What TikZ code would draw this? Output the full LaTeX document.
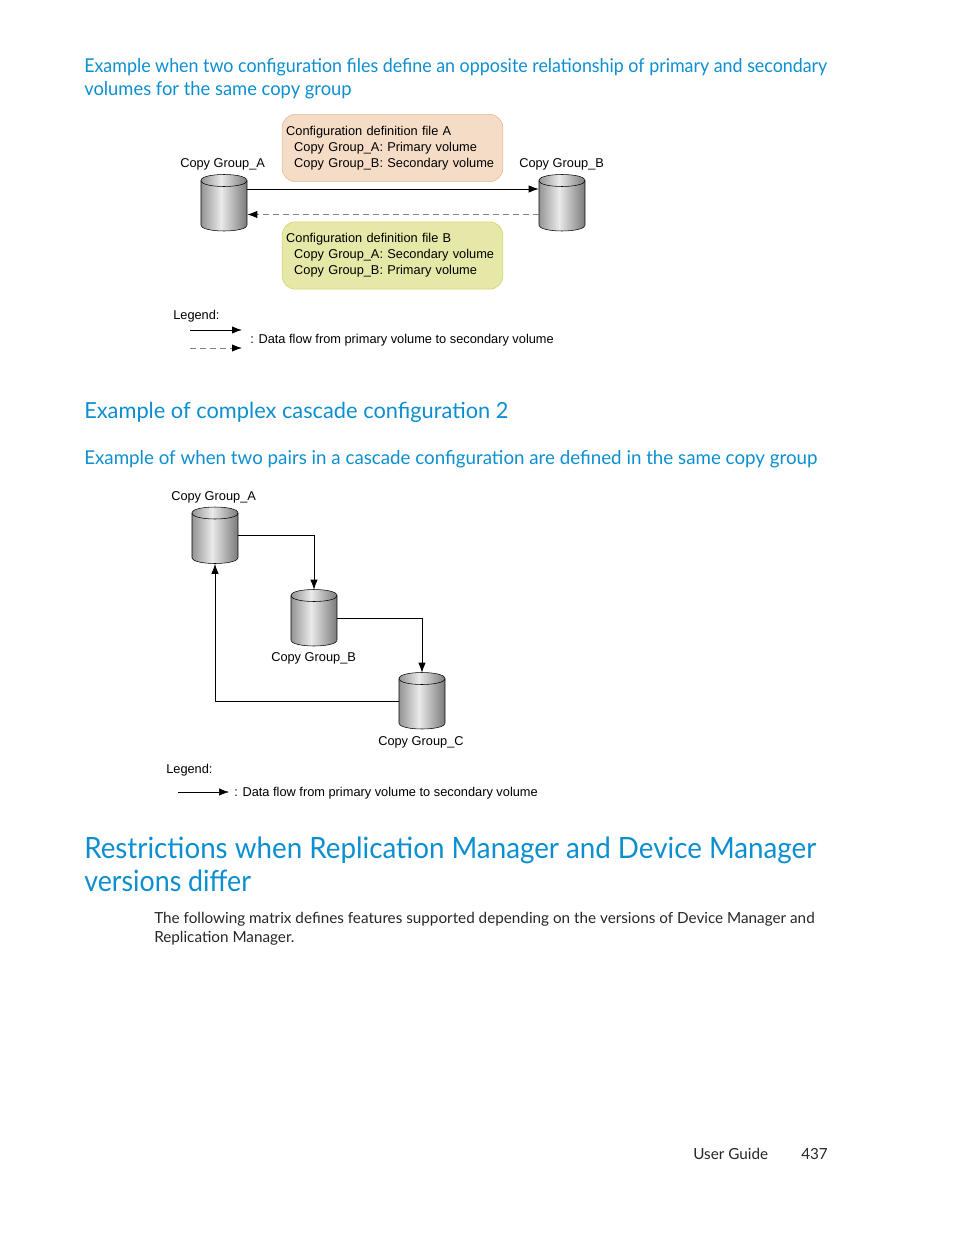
\documentclass[tikz,border=0pt]{standalone}
\usepackage{fontspec}
\usepackage{xcolor}
\usepackage{tikz}
\usetikzlibrary{arrows.meta}
\setmainfont{Lato}
\newfontfamily\figfont{Liberation Sans}
\newcommand{\headfont}[2]{\fontspec{Lato}[FakeStretch=#2]\fontsize{#1}{#1}\selectfont}
\definecolor{headblue}{HTML}{0C8FD0}
\definecolor{fileAfill}{HTML}{F5DCC6}
\definecolor{fileAline}{HTML}{E0B890}
\definecolor{fileBfill}{HTML}{E6E8A8}
\definecolor{fileBline}{HTML}{CDD060}
\definecolor{volEdge}{HTML}{7A7A7A}
\definecolor{volMid}{HTML}{EAEAEA}
\tikzset{
  volbox/.style={minimum width=34.5pt, minimum height=42pt, inner sep=0pt},
  heading/.style n args={2}{anchor=base west, inner sep=0pt, text=headblue, font=\headfont{#1}{#2}},
  bodytext/.style={anchor=base west, inner sep=0pt, text=black!85, font=\fontsize{11.45}{11.45}\selectfont},
  figlabel/.style={anchor=base west, inner sep=0pt, font=\figfont\fontsize{9.6}{9.6}\selectfont},
  filebox/.style={rounded corners=10pt, minimum width=165.5pt, minimum height=50.5pt,
    inner sep=3pt, text width=159.5pt, align=left,
    font=\figfont\fontsize{9.6}{12}\selectfont},
  flow/.style={-{Latex[length=7.5pt,width=5.5pt]}, semithick},
  backflow/.style={-{Latex[length=7.5pt,width=5.5pt,black]}, dash pattern=on 4.5pt off 3pt, gray, semithick}
}
\newcommand{\drawvolume}[2]{%
  \node[volbox] (#1) at (#2) {};
  \begin{scope}[shift={(#2)}]
    \begin{scope}
      \clip (-23,-22.5) .. controls (-23,-30.5) and (23,-30.5) .. (23,-22.5) -- (23,22)
        .. controls (23,30) and (-23,30) .. (-23,22) -- cycle;
      % Gradient in strips
      \foreach \s in {-23,...,22}{
        \pgfmathsetmacro{\mixval}{100*(1-abs(\s+3)/26)}
        \fill[volMid!\mixval!volEdge] (\s,-32) rectangle (\s+1.4,32);
      }
    \end{scope}
    \draw[thin] (-23,-22.5) .. controls (-23,-30.5) and (23,-30.5) .. (23,-22.5) -- (23,22)
      .. controls (23,30) and (-23,30) .. (-23,22) -- cycle;
    \draw[thin] (-23,-22.5) .. controls (-23,-14.5) and (23,-14.5) .. (23,-22.5);
  \end{scope}}
\begin{document}
\begin{tikzpicture}[x=0.75pt,y=-0.75pt]
  \useasboundingbox (0,0) rectangle (954,1235);
  % Headings
  \node[heading={14.3}{.936}] (headA) at (84,72) {Example when two configuration files define an opposite relationship of primary and secondary};
  \node[heading={14.3}{.963}] (headAb) at (84,95) {volumes for the same copy group};
  \node[heading={16.6}{.985}] (headB) at (84,418) {Example of complex cascade configuration 2};
  \node[heading={14.3}{.983}] (headC) at (84,464) {Example of when two pairs in a cascade configuration are defined in the same copy group};
  \node[heading={22}{.946}] (headD) at (84,858) {Restrictions when Replication Manager and Device Manager};
  \node[heading={22}{.914}] (headDb) at (84,891) {versions differ};
  % First figure
  \node[filebox, fill=fileAfill, draw=fileAline] (fileA) at (392.5,148)
    {Configuration definition file A\\\hspace*{6pt}Copy Group\_A: Primary volume\\\hspace*{6pt}Copy Group\_B: Secondary volume};
  \node[filebox, fill=fileBfill, draw=fileBline] (fileB) at (392.5,255.5)
    {Configuration definition file B\\\hspace*{6pt}Copy Group\_A: Secondary volume\\\hspace*{6pt}Copy Group\_B: Primary volume};
  \drawvolume{volA}{224,203}
  \drawvolume{volB}{562,203}
  \node[figlabel] (labA) at (180,167) {Copy Group\_A};
  \node[figlabel] (labB) at (519,167) {Copy Group\_B};
  \coordinate (aOut) at ([yshift=10.5pt]volA.east);
  \coordinate (bIn) at ([yshift=10.5pt]volB.west);
  \coordinate (aIn) at ([yshift=-8.6pt]volA.east);
  \coordinate (bOut) at ([yshift=-8.6pt]volB.west);
  \draw[flow] (aOut) -- (bIn);
  \draw[backflow] (bOut) -- (aIn);
  % First legend
  \node[figlabel] (legOne) at (173,319) {Legend:};
  \coordinate (legOneA) at (190,330);
  \coordinate (legOneB) at (242,330);
  \coordinate (legOneC) at (190,348);
  \coordinate (legOneD) at (242,348);
  \draw[flow] (legOneA) -- (legOneB);
  \draw[backflow] (legOneC) -- (legOneD);
  \node[figlabel] (legOneText) at (250,343) {: Data flow from primary volume to secondary volume};
  % Second figure
  \drawvolume{cgA}{215,535.5}
  \drawvolume{cgB}{314,618}
  \drawvolume{cgC}{422,701}
  \node[figlabel] (cgLabA) at (171,500) {Copy Group\_A};
  \node[figlabel] (cgLabB) at (271,661) {Copy Group\_B};
  \node[figlabel] (cgLabC) at (378,745) {Copy Group\_C};
  \draw[flow] (cgA.east) -| (cgB.north);
  \draw[flow] (cgB.east) -| (cgC.north);
  \draw[flow] (cgC.west) -| (cgA.south);
  % Second legend
  \node[figlabel] (legTwo) at (166,773) {Legend:};
  \coordinate (legTwoA) at (178,792);
  \coordinate (legTwoB) at (229,792);
  \draw[flow, thin] (legTwoA) -- (legTwoB);
  \node[figlabel] (legTwoText) at (234,796) {: Data flow from primary volume to secondary volume};
  % Body text and footer
  \node[bodytext] (bodyA) at (154,923) {The following matrix defines features supported depending on the versions of Device Manager and};
  \node[bodytext] (bodyB) at (154,942) {Replication Manager.};
  \node[bodytext] (footA) at (693,1159) {User Guide};
  \node[bodytext] (footB) at (801,1159) {437};
\end{tikzpicture}
\end{document}
